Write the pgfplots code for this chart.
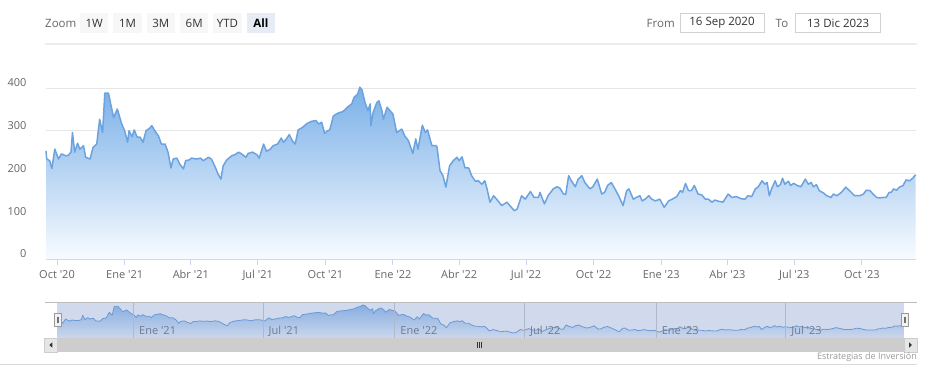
\documentclass[border=0pt]{standalone}
\usepackage{fontspec}
\setmainfont{Open Sans}
\usepackage{pgfplots}
\pgfplotsset{compat=1.18}
\usepackage{pgfplotstable}
\newcommand{\q}{\textquotesingle}
\definecolor{c666}{HTML}{666666}
\definecolor{c333}{HTML}{333333}
\definecolor{c999}{HTML}{999999}
\definecolor{gridc}{HTML}{E6E6E6}
\definecolor{axisc}{HTML}{CCD6EB}
\definecolor{linec}{RGB}{108,163,222}
\definecolor{areatop}{RGB}{122,176,232}
\definecolor{areabot}{RGB}{248,251,255}
\definecolor{navtop}{RGB}{150,192,238}
\definecolor{btn}{HTML}{F7F7F7}
\definecolor{btnsel}{HTML}{E6EBF5}
\definecolor{maskc}{RGB}{102,133,194}
\definecolor{navgrid}{HTML}{D0D0D0}
\definecolor{sbthumb}{HTML}{CDCDCD}
\definecolor{sbbtn}{HTML}{E6E6E6}
\definecolor{sepc}{HTML}{DADADA}

\pgfplotstableread{
day val
0 253
1 234
5 230
8 212
12 257
17 234
21 246
26 242
30 242
34 250
36 296
39 250
43 271
46 257
51 265
54 238
60 234
64 261
69 269
73 327
77 296
80 388
85 388
88 363
92 331
97 351
103 316
107 300
111 273
113 300
117 286
120 302
124 285
128 285
132 273
136 300
141 306
144 312
148 300
153 288
157 269
162 269
166 250
170 213
173 234
178 236
182 222
187 211
190 230
195 232
198 236
205 234
210 236
214 230
221 238
225 234
230 216
234 199
238 187
241 218
246 232
253 242
257 244
262 250
266 246
272 238
275 247
281 250
287 244
290 236
296 269
300 252
305 257
309 265
315 269
320 283
323 273
327 281
331 291
335 277
339 269
343 302
349 308
355 317
361 322
367 324
371 316
375 320
379 294
383 300
386 302
391 335
397 341
404 345
410 355
416 363
419 378
424 386
427 402
430 395
434 366
438 347
441 363
442 312
445 343
450 366
453 370
457 347
459 327
464 355
468 347
472 339
477 296
484 304
488 288
493 277
499 247
503 281
506 257
512 313
516 296
519 302
525 265
531 265
532 261
536 207
540 195
544 168
549 218
554 230
559 238
562 230
566 239
570 213
575 213
579 195
584 182
588 183
593 175
597 183
600 164
604 133
609 148
613 140
620 125
627 133
631 125
637 113
641 117
647 148
652 140
659 158
664 144
670 144
672 156
678 129
683 148
690 164
695 169
699 166
704 152
707 151
711 195
714 185
720 169
724 187
729 195
733 179
740 164
744 169
750 187
756 152
760 156
764 172
769 179
774 164
779 148
785 125
790 160
793 164
799 140
803 144
808 148
811 136
815 140
820 148
824 140
829 136
835 140
841 121
847 136
852 140
858 146
863 160
866 156
870 177
874 160
878 160
882 172
887 152
892 150
897 140
901 140
906 133
910 138
915 135
921 133
928 152
933 144
939 146
946 141
951 140
955 148
960 146
965 164
969 169
974 183
978 175
981 179
984 148
987 164
992 183
995 169
999 174
1002 189
1005 175
1010 182
1013 172
1017 177
1022 172
1027 169
1033 187
1037 175
1041 179
1044 169
1048 174
1052 160
1058 154
1062 148
1068 144
1071 152
1076 148
1082 156
1088 168
1093 160
1100 148
1107 148
1112 152
1116 161
1121 160
1125 152
1130 144
1134 143
1139 144
1143 144
1147 156
1150 156
1153 164
1157 161
1161 168
1166 172
1170 185
1175 183
1179 189
1183 197
}\pricedata

\begin{document}
\begin{tikzpicture}
\useasboundingbox (0pt,0pt) rectangle (928pt,-381pt);
\begin{scope}[x=1pt,y=-1pt]
  % range selector
  \node[anchor=west, inner sep=0, text=c666, font=\fontsize{11.5}{13}\selectfont] at (45,23) {Zoom};
  \foreach \a/\b/\t in {80/108.3/1W, 113.3/141.7/1M, 146.7/175/3M, 180/208.3/6M, 213.3/241.7/YTD}{
    \fill[btn] (\a,13.3) rectangle (\b,32.7);
    \node[inner sep=0, text=c333, font=\fontsize{11.5}{13}\selectfont] at ({(\a+\b)/2},23) {\t};
  }
  \fill[btnsel] (246.7,13.3) rectangle (275,32.7);
  \node[inner sep=0, text=black, font=\fontsize{11.5}{13}\selectfont\bfseries] at (260.8,23) {All};
  \node[anchor=west, inner sep=0, text=c666, font=\fontsize{11.5}{13}\selectfont] at (646.5,23) {From};
  \draw[draw=gridc!80!gray, line width=0.8pt, fill=white] (680,13.3) rectangle (764,32.5);
  \node[inner sep=0, text=c333, font=\fontsize{11.5}{13}\selectfont] at (722,23) {16 Sep 2020};
  \node[anchor=west, inner sep=0, text=c666, font=\fontsize{11.5}{13}\selectfont] at (775.5,23) {To};
  \draw[draw=gridc!80!gray, line width=0.8pt, fill=white] (795.7,13.3) rectangle (880.7,32.5);
  \node[inner sep=0, text=c333, font=\fontsize{11.5}{13}\selectfont] at (838.2,23) {13 Dic 2023};
  \draw[draw=gridc!70!white, line width=2pt] (45,43.5) -- (917,43.5);
\end{scope}

\begin{axis}[
  at={(46pt,-259pt)}, anchor=south west,
  scale only axis, width=869.6pt, height=183.8pt,
  xmin=0, xmax=1183, ymin=0, ymax=430,
  axis x line*=bottom, axis y line*=left,
  x axis line style={draw=axisc, line width=1pt, -},
  y axis line style={draw=none},
  xtick={15,107,197,288,380,472,562,653,745,837,927,1018,1110},
  xticklabels={Oct \q20, Ene \q21, Abr \q21, Jul \q21, Oct \q21, Ene \q22, Abr \q22, Jul \q22, Oct \q22, Ene \q23, Abr \q23, Jul \q23, Oct \q23},
  ytick={0,100,200,300,400},
  ymajorgrids, grid style={draw=gridc, line width=1pt},
  tick align=outside, major tick length=6pt,
  xtick style={draw=axisc, line width=1pt},
  ytick style={draw=none},
  tick label style={font=\fontsize{11}{13}\selectfont, text=c666},
  xticklabel style={yshift=-1.5pt},
  yticklabel style={anchor=east, xshift=-10pt, yshift=5pt},
  /pgf/number format/assume math mode=true,
  clip=false,
]
\addplot[draw=none, top color=areatop, bottom color=areabot] table[x=day, y=val] {\pricedata} \closedcycle;
\addplot[draw=linec, line width=1.5pt, line join=round, mark=none] table[x=day, y=val] {\pricedata};
\end{axis}

\begin{axis}[
  at={(57pt,-338pt)}, anchor=south west,
  scale only axis, width=847pt, height=36pt,
  xmin=0, xmax=1183, ymin=61, ymax=432,
  axis line style={draw=none}, axis on top,
  xtick={107,288,472,653,837,1018},
  xticklabels={Ene \q21, Jul \q21, Ene \q22, Jul \q22, Ene \q23, Jul \q23},
  ytick=\empty, major tick length=0pt,
  xmajorgrids, grid style={draw=navgrid, line width=1pt},
  xticklabel style={anchor=base west, xshift=2pt, yshift=3.5pt, font=\fontsize{11}{13}\selectfont, text=c666!90!white},
  /pgf/number format/assume math mode=true,
]
\addplot[draw=none, top color=navtop, bottom color=areabot] table[x=day, y=val] {\pricedata} \closedcycle;
\addplot[draw=linec, line width=0.8pt, line join=round, mark=none] table[x=day, y=val] {\pricedata};
\end{axis}

\begin{scope}[x=1pt,y=-1pt]
  \fill[maskc, fill opacity=0.3] (57,302) rectangle (904,338);
  \draw[draw=gridc!60!gray, line width=1pt] (45,302) -- (917,302);
  % handles
  \foreach \h in {54.3,901.3}{
    \filldraw[fill=white!95!black, draw=c999, line width=0.8pt] (\h,313) rectangle ({\h+6.7},326);
    \draw[c333!70!white, line width=0.6pt] ({\h+2.5},316.5) -- ({\h+2.5},322.5);
    \draw[c333!70!white, line width=0.6pt] ({\h+4.2},316.5) -- ({\h+4.2},322.5);
  }
  % scrollbar
  \fill[white!95!black] (45,338) rectangle (917,352);
  \fill[sbthumb] (57,338) rectangle (904,352);
  \filldraw[fill=sbbtn, draw=sbthumb, line width=0.6pt] (44.5,338) rectangle (57,352);
  \filldraw[fill=sbbtn, draw=sbthumb, line width=0.6pt] (904,338) rectangle (917,352);
  \fill[c333] (49.3,345) -- (52.3,342.3) -- (52.3,347.7) -- cycle;
  \fill[c333] (912,345) -- (909,342.3) -- (909,347.7) -- cycle;
  \foreach \r in {477,479.3,481.6}{
    \draw[c333, line width=0.7pt] (\r,342) -- (\r,348);
  }
  \draw[draw=sepc, line width=1pt] (0,364.5) -- (917,364.5);
  \node[anchor=east, inner sep=0, text=c999, font=\fontsize{9}{11}\selectfont] at (917,357) {Estrategias de Inversión};
\end{scope}
\end{tikzpicture}
\end{document}
